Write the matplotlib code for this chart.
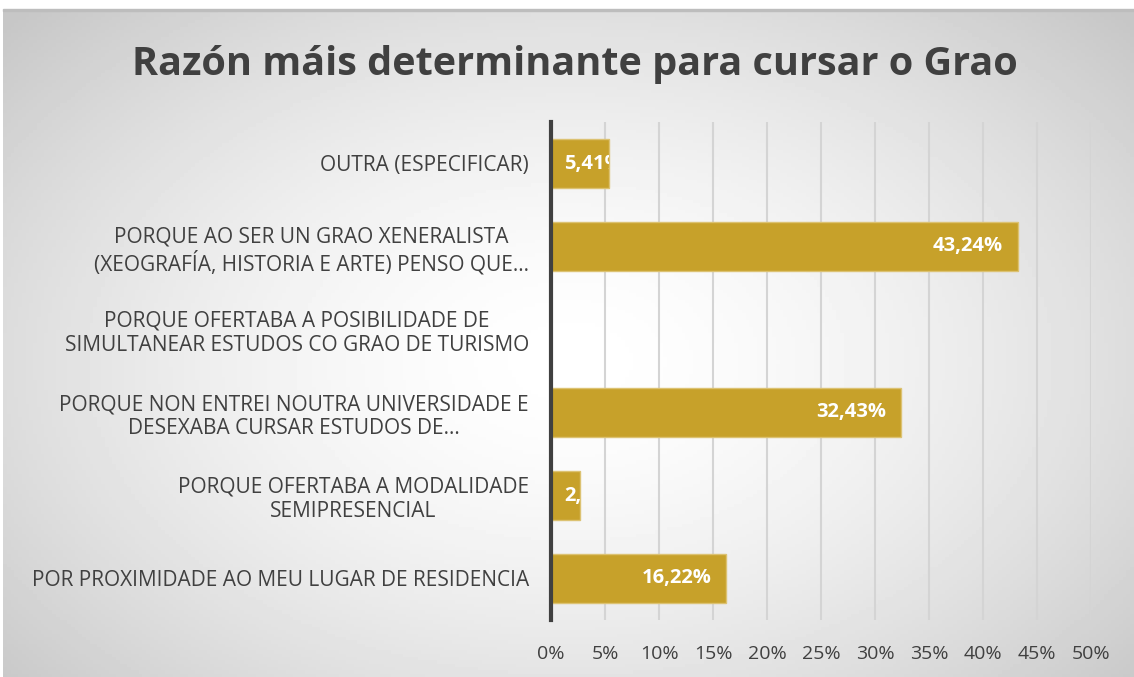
import numpy as np
import matplotlib
matplotlib.use("Agg")
from matplotlib import pyplot as plt

# datos
categorias = [
    "POR PROXIMIDADE AO MEU LUGAR DE RESIDENCIA",
    "PORQUE OFERTABA A MODALIDADE\nSEMIPRESENCIAL",
    "PORQUE NON ENTREI NOUTRA UNIVERSIDADE E\nDESEXABA CURSAR ESTUDOS DE…",
    "PORQUE OFERTABA A POSIBILIDADE DE\nSIMULTANEAR ESTUDOS CO GRAO DE TURISMO",
    "PORQUE AO SER UN GRAO XENERALISTA\n(XEOGRAFÍA, HISTORIA E ARTE) PENSO QUE…",
    "OUTRA (ESPECIFICAR)",
]
porcentaxes = [16.22, 2.70, 32.43, 0.0, 43.24, 5.41]
ticks_x = [0, 5, 10, 15, 20, 25, 30, 35, 40, 45, 50]
titulo = "Razón máis determinante para cursar o Grao"

plt.rcParams["font.family"] = ["Open Sans", "DejaVu Sans"]
W, H = 1134, 677
fig = plt.figure(figsize=(W / 100, H / 100), dpi=100)

# fondo con degradado radial
bg = fig.add_axes([3 / W, 0, 1 - 3 / W, 1 - 10 / H])
bg.set_axis_off()
yy, xx = np.mgrid[0:200, 0:300]
cx, cy = 150, 105
r = np.sqrt(((xx - cx) / 150) ** 2 + ((yy - cy) / 110) ** 2)
v = 1 - 0.22 * np.clip(r / 1.35, 0, 1) ** 1.6
bg.imshow(v, cmap="gray", vmin=0, vmax=1, aspect="auto", extent=[0, 1, 0, 1])
bg.set_xlim(0, 1)
bg.set_ylim(0, 1)
fig.patches.append(plt.Rectangle((3 / W, 1 - 11 / H), 1 - 3 / W, 1.5 / H,
                                 transform=fig.transFigure, color="#BDBDBD"))

left, right = 551 / W, 1091 / W
top, bottom = 1 - 122 / H, 1 - 620 / H
ax = fig.add_axes([left, bottom, right - left, top - bottom])
ax.patch.set_alpha(0)

y = np.arange(len(categorias))
bars = ax.barh(y, porcentaxes, height=0.58, color="#C7A12A",
               edgecolor="#DCC272", linewidth=1, zorder=3)

ax.set_xlim(0, 50)
ax.set_ylim(-0.5, len(categorias) - 0.5)

# etiquetas de datos (recortadas pola barra, coma Excel)
renderer = fig.canvas.get_renderer()
px_per_unit = (right - left) * W / 50
for b, p in zip(bars, porcentaxes):
    txt = ax.text(0, b.get_y() + b.get_height() / 2,
                  f"{p:.2f}%".replace(".", ","), va="center",
                  color="white", fontsize=14.5, fontweight="bold", zorder=4)
    tw = txt.get_window_extent(renderer).width
    if tw + 30 < b.get_width() * px_per_unit:
        txt.set_x(b.get_width() - 15 / px_per_unit)
        txt.set_ha("right")
    else:
        txt.set_x(13 / px_per_unit)
        txt.set_ha("left")
    txt.set_clip_on(True)
    txt.set_clip_path(b)

ax.set_xticks(ticks_x)
ax.set_xticklabels([f"{t}%" for t in ticks_x])
ax.set_yticks(y)
ax.set_yticklabels(categorias)
for lab in ax.get_yticklabels():
    lab.set_multialignment("center")

ax.grid(axis="x", color="#D4D4D4", linewidth=1.5, zorder=0)
ax.set_axisbelow(True)
for s in ["top", "right", "bottom"]:
    ax.spines[s].set_visible(False)
ax.spines["left"].set_color("#404040")
ax.spines["left"].set_linewidth(3)
ax.spines["left"].set_zorder(5)

ax.tick_params(axis="y", length=0, pad=16, labelsize=15, labelcolor="#404040")
ax.tick_params(axis="x", length=0, pad=18, labelsize=14, labelcolor="#404040")

fig.text(575 / W, 1 - 64 / H, titulo, ha="center", va="center",
         fontsize=28.5, fontweight="bold", color="#404040")

fig.savefig("out.png", dpi=100)
